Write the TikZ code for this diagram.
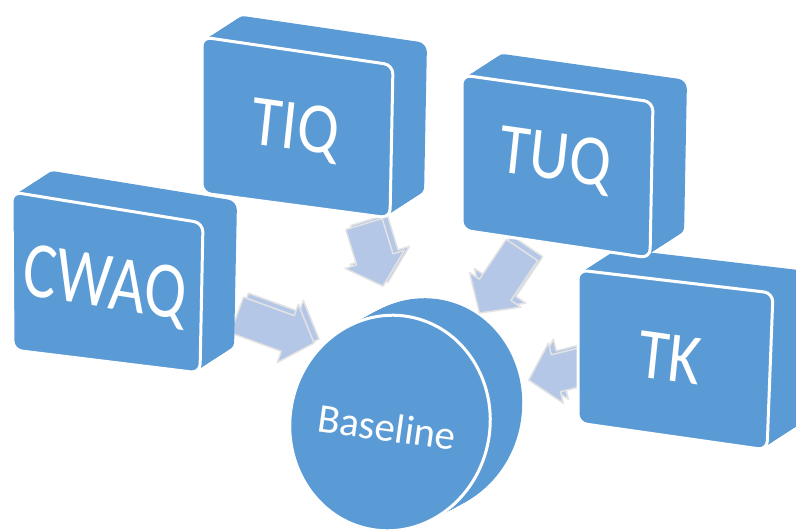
\documentclass[tikz,border=0pt]{standalone}
\usepackage{fontspec}
\setmainfont{Carlito}
\usetikzlibrary{calc}
\definecolor{slabblue}{HTML}{5B9BD5}
\definecolor{flowfill}{HTML}{B4C7E7}
\definecolor{flowline}{HTML}{E3E3E3}

\tikzset{
  slabface/.style={fill=slabblue, draw=white, line width=3pt, rounded corners=9pt},
  slabtext/.style={text=white, inner sep=0pt, font=\fontsize{72}{80}\selectfont},
  flow/.style={fill=flowfill, draw=flowline, line width=1.5pt, line join=round}
}

% extruded box: front corners TL, TR, BR, BL
\newcommand{\slab}[4]{%
  \foreach \t in {0,0.04,...,1.001}
    \fill[slabblue, rounded corners=9pt, shift={(34*\t,-22*\t)}] #1 -- #2 -- #3 -- #4 -- cycle;
  \draw[slabface] #1 -- #2 -- #3 -- #4 -- cycle;
}

% block arrow: start, angle (clockwise), length
\newcommand{\flowarrow}[3]{%
  \foreach \dx/\dy in {5/-4,0/0}
    \draw[flow, shift={(#1)}, shift={(\dx,\dy)}, rotate=-#2]
      (0,-19) -- ({#3-28},-19) -- ({#3-28},-31) -- (#3,0)
      -- ({#3-28},31) -- ({#3-28},19) -- (0,19) -- cycle;
}

\begin{document}
\begin{tikzpicture}[x=1pt, y=-1pt]
  \useasboundingbox (0,0) rectangle (796,530);
  \clip (0,0) rectangle (796,530);

  % arrow starts
  \coordinate (cwaq-out) at (237,315);
  \coordinate (tiq-out) at (364,224);
  \coordinate (tuq-out) at (522,250);
  \coordinate (tk-out) at (585,366);

  \flowarrow{cwaq-out}{20}{82}
  \flowarrow{tiq-out}{73}{65}
  \flowarrow{tuq-out}{124}{76}
  \flowarrow{tk-out}{166}{58}

  % boxes
  \slab{(12,192)}{(203,223)}{(200,373)}{(13,350)}
  \node[slabtext, font=\fontsize{80}{88}\selectfont, xscale=0.78, rotate=-7] (cwaq) at (105,287) {CWAQ};

  \slab{(578,270)}{(773,293)}{(767,450)}{(578,423)}
  \node[slabtext, xscale=0.86, rotate=-7] (tk) at (670,358) {TK};

  \slab{(202,37)}{(393,65)}{(390,218)}{(202,193)}
  \node[slabtext, xscale=0.86, rotate=-7] (tiq) at (295,131) {TIQ};

  \slab{(462,75)}{(653,102)}{(650,258)}{(462,230)}
  \node[slabtext, xscale=0.86, rotate=-7] (tuq) at (555,161) {TUQ};

  % baseline disc
  \foreach \t in {0,0.04,...,1.001}
    \fill[slabblue, shift={(32*\t,-17*\t)}, rotate around={-10:(390,423)}] (390,423) ellipse (100 and 108);
  \draw[slabface, rotate around={-10:(390,423)}] (390,423) ellipse (100 and 108);
  \node[text=white, inner sep=0pt, font=\fontsize{41}{45}\selectfont, rotate=-8] (baseline) at (387,427) {Baseline};
\end{tikzpicture}
\end{document}
